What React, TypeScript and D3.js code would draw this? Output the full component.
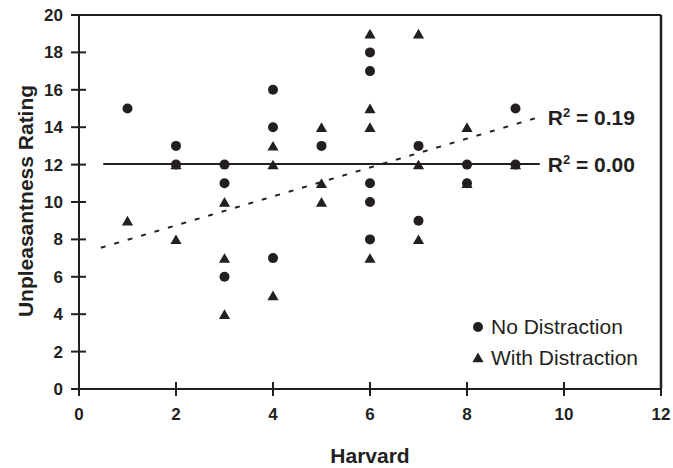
import React from "react";
import * as d3 from "d3";

const noDistX = [1, 2, 2, 3, 3, 3, 4, 4, 4, 5, 6, 6, 6, 6, 6, 7, 7, 8, 8, 9, 9];
const noDistY = [15, 13, 12, 12, 11, 6, 16, 14, 7, 13, 18, 17, 11, 10, 8, 13, 9, 12, 11, 15, 12];
const withDistX = [1, 2, 2, 3, 3, 3, 4, 4, 4, 5, 5, 5, 6, 6, 6, 6, 7, 7, 7, 8, 8, 9];
const withDistY = [9, 12, 8, 10, 7, 4, 13, 12, 5, 14, 11, 10, 19, 15, 14, 7, 19, 12, 8, 14, 11, 12];
const trendNoDist = [[0.5, 12.03], [9.5, 12.03]];
const trendWithDist = [[0.45, 7.55], [9.5, 14.55]];
const xTicks = [0, 2, 4, 6, 8, 10, 12];
const yTicks = [0, 2, 4, 6, 8, 10, 12, 14, 16, 18, 20];
const seriesNames = ["No Distraction", "With Distraction"];
const r2Labels = ["0.19", "0.00"];

const W = 673, H = 468;
const L = 79, R = 661, T = 15, B = 389;
const ink = "#231f20";
const font = "'Liberation Sans', Arial, sans-serif";

export default function App() {
  const x = d3.scaleLinear().domain([0, 12]).range([L, R]);
  const y = d3.scaleLinear().domain([0, 20]).range([B, T]);
  const tri = d3.symbol().type(d3.symbolTriangle).size(54)();
  const line = d3.line<number[]>().x(d => x(d[0])).y(d => y(d[1]));
  return (
    <div style={{ position: "absolute", left: 0, top: 0 }}>
      <svg width={W} height={H} style={{ display: "block", background: "#fff" }}>
        {/* frame */}
        <line x1={L} x2={R} y1={T} y2={T} stroke={ink} strokeWidth={2} />
        <line x1={R} x2={R} y1={T} y2={B} stroke={ink} strokeWidth={2.5} />
        <line x1={L} x2={L} y1={T} y2={B} stroke={ink} strokeWidth={2} />
        <line x1={L} x2={R} y1={B} y2={B} stroke={ink} strokeWidth={2} />
        {yTicks.map(t => (
          <g key={"y" + t}>
            <line x1={L - 8} x2={L + 7} y1={y(t)} y2={y(t)} stroke={ink} strokeWidth={2} />
            <text x={L - 16} y={y(t) + 6} textAnchor="end" fontFamily={font} fontWeight="bold" fontSize={17} fill={ink}>{t}</text>
          </g>
        ))}
        {xTicks.map(t => (
          <g key={"x" + t}>
            <line x1={x(t)} x2={x(t)} y1={B - 7} y2={B + 7} stroke={ink} strokeWidth={2} />
            <text x={x(t)} y={B + 31} textAnchor="middle" fontFamily={font} fontWeight="bold" fontSize={17} fill={ink}>{t}</text>
          </g>
        ))}
        <text x={(L + R) / 2} y={463} textAnchor="middle" fontFamily={font} fontWeight="bold" fontSize={21} fill={ink}>Harvard</text>
        <text transform={`translate(33,${201}) rotate(-90)`} textAnchor="middle" fontFamily={font} fontWeight="bold" fontSize={21} fill={ink}>Unpleasantness Rating</text>
        {/* trend lines */}
        <path d={line(trendNoDist) || ""} fill="none" stroke={ink} strokeWidth={2} />
        <path d={line(trendWithDist) || ""} fill="none" stroke={ink} strokeWidth={2} strokeDasharray="5,9" />
        {/* points */}
        {noDistX.map((v, i) => (
          <circle key={"c" + i} cx={x(v)} cy={y(noDistY[i])} r={5} fill={ink} />
        ))}
        {withDistX.map((v, i) => (
          <path key={"t" + i} d={tri} transform={`translate(${x(v)},${y(withDistY[i]) + 1.5})`} fill={ink} />
        ))}
        {/* R2 labels */}
        {[trendWithDist, trendNoDist].map((tr, i) => (
          <text key={"r" + i} x={x(tr[1][0]) + 8} y={y(tr[1][1]) + 8} fontFamily={font} fontWeight="bold" fontSize={21} fill={ink}>
            R<tspan dy={-8} fontSize={13}>2</tspan><tspan dy={8}> = {r2Labels[i]}</tspan>
          </text>
        ))}
        {/* legend */}
        <circle cx={478} cy={327} r={5} fill={ink} />
        <path d={tri} transform={`translate(478,359)`} fill={ink} />
        <text x={491} y={334} fontFamily={font} fontSize={21} fill={ink}>{seriesNames[0]}</text>
        <text x={491} y={365} fontFamily={font} fontSize={21} fill={ink}>{seriesNames[1]}</text>
      </svg>
    </div>
  );
}
